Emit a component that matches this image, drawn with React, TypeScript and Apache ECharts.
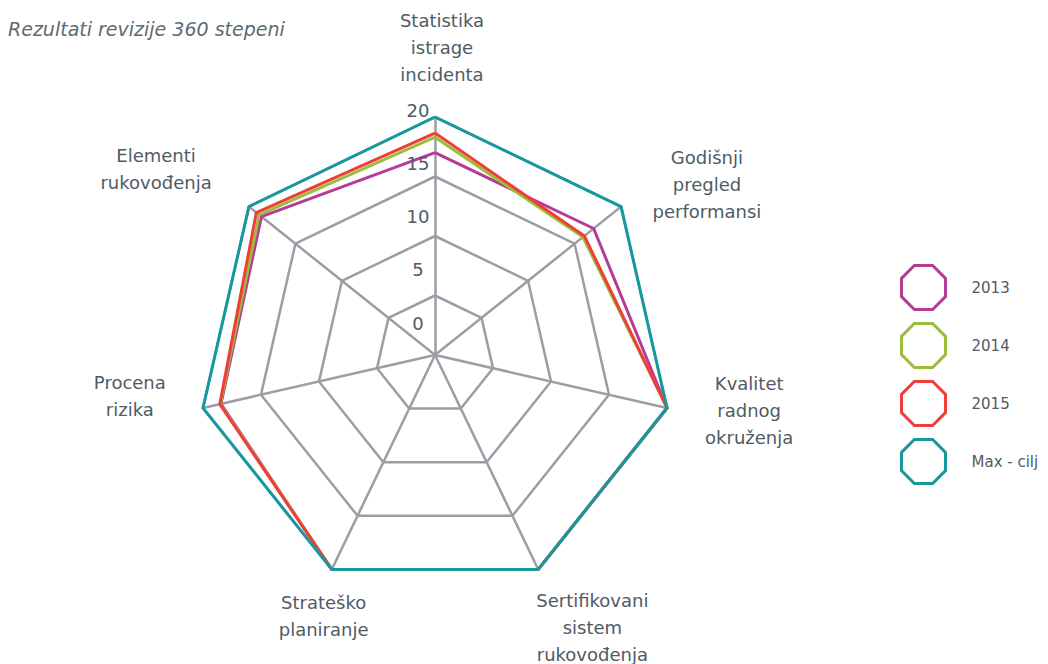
import React, { useEffect, useRef } from "react";
import * as echarts from "echarts";

// ---- data ----
const indicatorNames = [
  "Statistika\nistrage\nincidenta",
  "Elementi\nrukovođenja",
  "Procena\nrizika",
  "Strateško\nplaniranje",
  "Sertifikovani\nsistem\nrukovođenja",
  "Kvalitet\nradnog\nokruženja",
  "Godišnji\npregled\nperformansi",
];
const indicatorMax = 20;
const seriesNames = ["2013", "2014", "2015", "Max - cilj"];
const values2013 = [17.0, 18.65, 18.45, 20, 20, 20, 17.05];
const values2014 = [18.3, 18.9, 18.5, 20, 20, 20, 15.9];
const values2015 = [18.65, 19.2, 18.55, 20, 20, 20, 16.05];
const valuesMax = [20, 20, 20, 20, 20, 20, 20];
const scaleTicks = [0, 5, 10, 15, 20];

// ---- style / layout ----
const seriesColors = ["#b23c97", "#9cbd3c", "#ee3f37", "#15999f"];
const textColor = "#4e5b66";
const gridColor = "#9c9da5";
const FONT = "'DejaVu Sans', 'Noto Sans', sans-serif";
// per-indicator label nudges [dx, dy] in px
const nameShift: [number, number][] = [
  [7, 4],
  [-35, 8.5],
  [-1, -28],
  [24, -20],
  [22, -9],
  [10, -14],
  [28, 24],
];
const OCTAGON =
  "path://M29.3,0 L70.7,0 L100,29.3 L100,70.7 L70.7,100 L29.3,100 L0,70.7 L0,29.3 Z";

export default function App() {
  const ref = useRef<HTMLDivElement>(null);

  useEffect(() => {
    if (!ref.current) return;
    const chart = echarts.init(ref.current, undefined, { renderer: "svg" });

    const rich: Record<string, any> = {};
    nameShift.forEach(([dx, dy], i) => {
      rich["t" + i] = {
        fontSize: 18,
        lineHeight: 27,
        color: textColor,
        fontFamily: FONT,
        align: "center",
        padding: [0, dx < 0 ? -2 * dx : 0, 0, dx > 0 ? 2 * dx : 0],
      };
      const h = Math.max(1, Math.abs(2 * dy));
      rich["s" + i] = { fontSize: 1, lineHeight: h, height: h };
    });

    const seriesValues = [values2013, values2014, values2015, valuesMax];

    const option: any = {
      animation: false,
      backgroundColor: "#ffffff",
      title: {
        text: "Rezultati revizije 360 stepeni",
        left: 8,
        top: 19,
        padding: 0,
        textStyle: {
          fontSize: 19,
          fontStyle: "italic",
          fontWeight: "normal",
          color: "#5c6a74",
          fontFamily: FONT,
        },
      },
      legend: {
        orient: "vertical",
        left: 900,
        top: 264,
        padding: 0,
        itemWidth: 44,
        itemHeight: 44,
        itemGap: 11,
        selectedMode: false,
        textStyle: {
          fontSize: 15,
          color: textColor,
          fontFamily: FONT,
          padding: [0, 0, 0, 21],
        },
        data: seriesNames.map((n, i) => ({
          name: n,
          icon: OCTAGON,
          itemStyle: {
            color: "rgba(0,0,0,0)",
            borderColor: seriesColors[i],
            borderWidth: 3,
          },
        })),
      },
      radar: {
        center: [435, 355],
        radius: 238,
        startAngle: 90,
        splitNumber: 4,
        shape: "polygon",
        axisNameGap: 74,
        indicator: indicatorNames.map((n) => ({ name: n, min: 0, max: indicatorMax })),
        axisName: {
          color: textColor,
          fontSize: 18,
          lineHeight: 27,
          fontFamily: FONT,
          align: "center",
          verticalAlign: "middle",
          formatter: (name: string) => {
            const i = indicatorNames.indexOf(name);
            const lines = name.split("\n").map((l) => `{t${i}|${l}}`);
            const dy = nameShift[i][1];
            const sp = `{s${i}| }`;
            if (dy > 0) lines.unshift(sp);
            else if (dy < 0) lines.push(sp);
            return lines.join("\n");
          },
          rich,
        },
        axisLine: { lineStyle: { color: gridColor, width: 2.5 } },
        splitLine: { lineStyle: { color: gridColor, width: 2.5 } },
        splitArea: { show: false },
        axisTick: { show: false },
        axisLabel: { show: false },
      },
      polar: {
        center: [435, 355],
        radius: [32, 245],
      },
      angleAxis: {
        show: false,
        startAngle: 90,
        min: 0,
        max: 360,
      },
      radiusAxis: {
        min: scaleTicks[0],
        max: scaleTicks[scaleTicks.length - 1],
        interval: scaleTicks[1] - scaleTicks[0],
        axisLine: { show: false },
        axisTick: { show: false },
        splitLine: { show: false },
        z: 5,
        axisLabel: {
          color: textColor,
          fontSize: 18,
          fontFamily: FONT,
          align: "center",
          verticalAlign: "middle",
          margin: 17,
        },
      },
      series: [
        {
          type: "radar",
          symbol: "none",
          data: seriesNames.map((n, i) => ({
            name: n,
            value: seriesValues[i],
            lineStyle: { color: seriesColors[i], width: 3 },
            itemStyle: { color: seriesColors[i] },
          })),
        },
      ],
    };

    chart.setOption(option);
    return () => chart.dispose();
  }, []);

  return (
    <div
      ref={ref}
      style={{ position: "absolute", left: 0, top: 0, width: 1048, height: 664 }}
    />
  );
}
